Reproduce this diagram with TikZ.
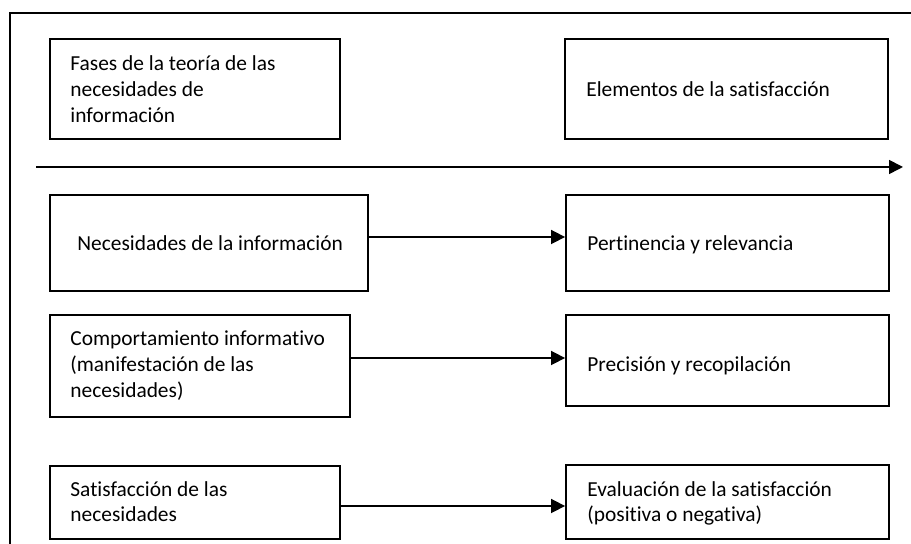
\documentclass[tikz,border=0pt]{standalone}
\usepackage{fontspec}
\setmainfont{Carlito}[Ligatures=NoCommon]
\usetikzlibrary{arrows.meta}
\begin{document}
\begin{tikzpicture}[x=0.5pt,y=-0.5pt,
  box/.style={draw,line width=0.9pt,inner sep=0pt},
  txt/.style={anchor=base west,inner sep=0pt,align=left,font=\fontsize{10.7pt}{13pt}\selectfont},
  arr/.style={line width=0.8pt,-{Triangle[length=7pt,width=7pt]}},
  frame/.style={line width=0.9pt}
]
\useasboundingbox (0,0) rectangle (911,544);
\fill[white] (0,0) rectangle (911,544);
% outer frame (only top and left visible)
\coordinate (fb) at (10,544);
\coordinate (ft) at (10,13);
\coordinate (fr) at (911,13);
\draw[frame] (fb) -- (ft) -- (fr);
% header boxes
\node[box,minimum width=145pt,minimum height=50pt] (b1) at (195,89) {};
\node[box,minimum width=161.5pt,minimum height=50pt] (e1) at (726.5,89) {};
% main arrow
\coordinate (as) at (36,167);
\coordinate (ae) at (903,167);
\draw[arr] (as) -- (ae);
% rows
\node[box,minimum width=159pt,minimum height=48pt] (l2) at (209,243) {};
\node[box,minimum width=161.5pt,minimum height=48pt] (r2) at (727.5,243) {};
\node[box,minimum width=150pt,minimum height=51pt] (l3) at (200,366) {};
\node[box,minimum width=161.5pt,minimum height=45.5pt] (r3) at (727.5,360.5) {};
\node[box,minimum width=145pt,minimum height=36.5pt] (l4) at (195,502.5) {};
\node[box,minimum width=161.5pt,minimum height=37pt] (r4) at (727.5,502) {};
% texts (base anchor = baseline of last line)
\node[txt] (t1) at (70,123) {Fases de la teoría de las\\necesidades de\\información};
\node[txt] (t2) at (586,97) {Elementos de la satisfacción};
\node[txt] (t3) at (77,251) {Necesidades de la información};
\node[txt] (t4) at (587,251) {Pertinencia y relevancia};
\node[txt] (t5) at (70,398) {Comportamiento informativo\\(manifestación de las\\necesidades)};
\node[txt] (t6) at (587,372) {Precisión y recopilación};
\node[txt,font=\fontsize{10.7pt}{12.3pt}\selectfont] (t7) at (70,521.6) {Satisfacción de las\\necesidades};
\node[txt,font=\fontsize{10.7pt}{12.3pt}\selectfont] (t8) at (587,521.6) {Evaluación de la satisfacción\\(positiva o negativa)};
% connectors
\draw[arr] ([yshift=3pt]l2.east) -- ([yshift=3pt]l2.east -| r2.west);
\draw[arr] ([yshift=4pt]l3.east) -- ([yshift=4pt]l3.east -| r3.west);
\draw[arr] ([yshift=-1.75pt]l4.east) -- ([yshift=-1.75pt]l4.east -| r4.west);
\end{tikzpicture}
\end{document}
